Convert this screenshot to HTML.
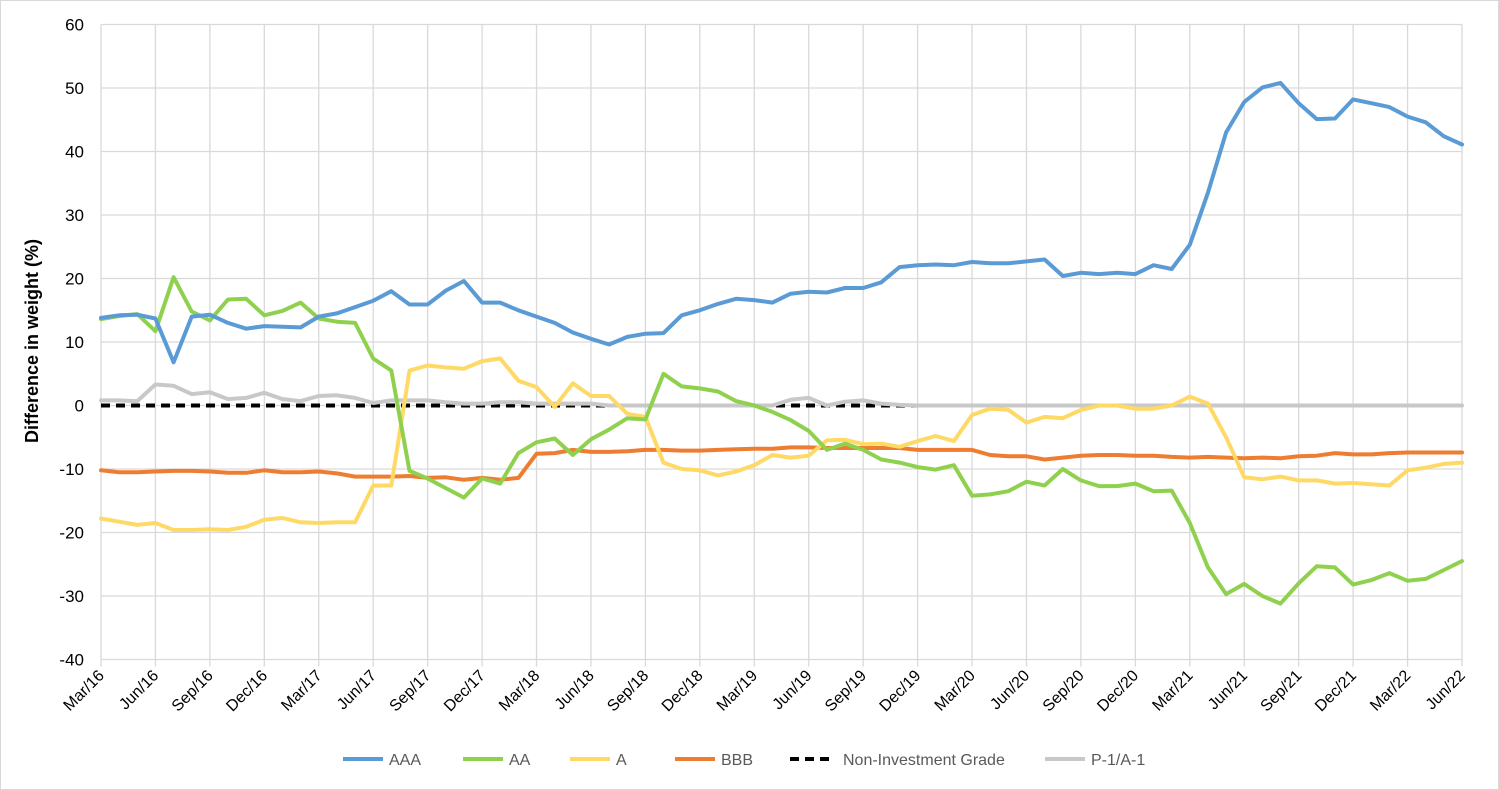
<!DOCTYPE html>
<html><head><meta charset="utf-8"><style>
body{margin:0;background:#fff;}
svg{display:block;font-family:"Liberation Sans",sans-serif;}
</style></head><body>
<svg id="chart" width="1499" height="790">
<rect x="0.5" y="0.5" width="1498" height="789" fill="#fff" stroke="#d9d9d9"/>
<g id="grid"></g><g id="yticks"></g><g id="xticks"></g><g id="series"></g>
<text x="38" y="341" transform="rotate(-90 38 341)" text-anchor="middle" font-size="18" font-weight="bold" fill="#000">Difference in weight (%)</text>
<g id="legend"></g>
</svg>
<script>
const yTicks=[60,50,40,30,20,10,0,-10,-20,-30,-40];
const xLabels=["Mar/16","Jun/16","Sep/16","Dec/16","Mar/17","Jun/17","Sep/17","Dec/17","Mar/18","Jun/18","Sep/18","Dec/18","Mar/19","Jun/19","Sep/19","Dec/19","Mar/20","Jun/20","Sep/20","Dec/20","Mar/21","Jun/21","Sep/21","Dec/21","Mar/22","Jun/22"];
const aaa=[13.8,14.2,14.3,13.7,6.8,14.0,14.3,13.0,12.1,12.5,12.4,12.3,14.0,14.5,15.5,16.5,18.0,15.9,15.9,18.1,19.6,16.2,16.2,15.0,14.0,13.0,11.5,10.5,9.6,10.8,11.3,11.4,14.2,15.0,16.0,16.8,16.6,16.2,17.6,17.9,17.8,18.5,18.5,19.4,21.8,22.1,22.2,22.1,22.6,22.4,22.4,22.7,23.0,20.4,20.9,20.7,20.9,20.7,22.1,21.5,25.3,33.5,43,47.8,50.1,50.8,47.6,45.1,45.2,48.2,47.6,47.0,45.5,44.6,42.4,41.1];
const aa=[13.6,14.1,14.4,11.7,20.2,14.8,13.4,16.7,16.8,14.2,14.9,16.2,13.7,13.2,13.0,7.4,5.5,-10.3,-11.5,-13.0,-14.5,-11.5,-12.3,-7.5,-5.8,-5.2,-7.8,-5.3,-3.8,-2.0,-2.2,5.0,3.0,2.7,2.2,0.7,0.0,-1.0,-2.3,-4.0,-7.0,-6.0,-7.0,-8.5,-9.0,-9.7,-10.1,-9.4,-14.2,-14.0,-13.5,-12.0,-12.6,-10.0,-11.8,-12.7,-12.7,-12.3,-13.5,-13.4,-18.5,-25.5,-29.7,-28.1,-30.0,-31.2,-28.0,-25.3,-25.5,-28.2,-27.5,-26.4,-27.6,-27.3,-25.9,-24.5];
const a=[-17.8,-18.3,-18.8,-18.5,-19.6,-19.6,-19.5,-19.6,-19.1,-18.0,-17.7,-18.4,-18.5,-18.4,-18.4,-12.6,-12.6,5.5,6.3,6.0,5.8,7.0,7.4,3.9,2.9,-0.2,3.5,1.5,1.5,-1.3,-1.8,-9.0,-10.0,-10.2,-11.0,-10.4,-9.4,-7.8,-8.2,-7.9,-5.5,-5.4,-6.1,-6.0,-6.5,-5.6,-4.8,-5.6,-1.5,-0.5,-0.7,-2.7,-1.8,-2.0,-0.7,0.0,0.0,-0.5,-0.5,0.0,1.4,0.3,-5,-11.3,-11.6,-11.2,-11.8,-11.8,-12.3,-12.2,-12.4,-12.6,-10.2,-9.8,-9.2,-9.0];
const bbb=[-10.2,-10.5,-10.5,-10.4,-10.3,-10.3,-10.4,-10.6,-10.6,-10.2,-10.5,-10.5,-10.4,-10.7,-11.2,-11.2,-11.2,-11.1,-11.4,-11.3,-11.7,-11.4,-11.7,-11.4,-7.6,-7.5,-7.0,-7.3,-7.3,-7.2,-7.0,-7.0,-7.1,-7.1,-7.0,-6.9,-6.8,-6.8,-6.6,-6.6,-6.7,-6.7,-6.7,-6.7,-6.7,-7.0,-7.0,-7.0,-7.0,-7.8,-8.0,-8.0,-8.5,-8.2,-7.9,-7.8,-7.8,-7.9,-7.9,-8.1,-8.2,-8.1,-8.2,-8.3,-8.2,-8.3,-8.0,-7.9,-7.5,-7.7,-7.7,-7.5,-7.4,-7.4,-7.4,-7.4];
const nig=[0,0,0,0,0,0,0,0,0,0,0,0,0,0,0,0,0,0,0,0,0,0,0,0,0,0,0,0,0,0,0,0,0,0,0,0,0,0,0,0,0,0,0,0,0,0];
const p1=[0.8,0.8,0.7,3.3,3.1,1.8,2.1,1.0,1.2,2.0,1.0,0.7,1.5,1.6,1.2,0.4,0.8,0.8,0.8,0.5,0.3,0.3,0.5,0.5,0.3,0.3,0.3,0.3,0,0,0,0,0,0,0,0,0,0,0.9,1.2,0,0.6,0.8,0.3,0.1,0,0,0,0,0,0,0,0,0,0,0,0,0,0,0,0,0,0,0,0,0,0,0,0,0,0,0,0,0,0,0];
const NS="http://www.w3.org/2000/svg";
const X0=101,X1=1462,N=76,Y0=405.5,PX=6.35;
const xs=i=>X0+(X1-X0)*i/(N-1);
const ys=v=>Y0-v*PX;
function mk(t,at,p){const e=document.createElementNS(NS,t);for(const k in at)e.setAttribute(k,at[k]);p.appendChild(e);return e;}
const grid=document.getElementById('grid');
yTicks.forEach(v=>{const l=mk('line',{x1:X0,x2:X1,y1:ys(v),y2:ys(v),stroke:'#d9d9d9','stroke-width':1.3},grid);


const t=mk('text',{x:84,y:ys(v)+6,'text-anchor':'end','font-size':17,fill:'#000'},document.getElementById('yticks'));
t.textContent=v;

});
xLabels.forEach((lb,k)=>{const x=xs(k*3);
const l=mk('line',{x1:x,x2:x,y1:ys(60),y2:ys(-40)+7,stroke:'#d9d9d9','stroke-width':1.3},grid);


const t=mk('text',{x:x+4,y:ys(-40)+17,'text-anchor':'end','font-size':16,fill:'#000',transform:`rotate(-45 ${x+4} ${ys(-40)+17})`},document.getElementById('xticks'));
t.textContent=lb;

});
const S=document.getElementById('series');
function line(d,c,name,dash){const p=d.map((v,i)=>xs(i).toFixed(1)+','+ys(v).toFixed(1)).join(' ');
const e=mk('polyline',{points:p,fill:'none',stroke:c,'stroke-width':4,'stroke-linejoin':'round','stroke-linecap':dash?'butt':'round'},S);
if(dash)e.setAttribute('stroke-dasharray',dash);

}
line(nig,'#000','series-non-investment-grade','9,6');
line(p1,'#c8c8c8','series-p1-a1');
line(bbb,'#ed7d31','series-bbb');
line(a,'#ffd966','series-a');
line(aa,'#8fd14f','series-aa');
line(aaa,'#5b9bd5','series-aaa');
const legendItems=[["AAA","#5b9bd5",343,null],["AA","#8fd14f",463,null],["A","#ffd966",570,null],["BBB","#ed7d31",675,null],["Non-Investment Grade","#000",790,"9,6"],["P-1/A-1","#c8c8c8",1045,null]];
const L=document.getElementById('legend');
legendItems.forEach(([n,c,x,d])=>{const g=mk('g',{},L);


const l=mk('line',{x1:x,x2:x+40,y1:759,y2:759,stroke:c,'stroke-width':4},g);
if(d)l.setAttribute('stroke-dasharray',d);
const t=mk('text',{x:x+(d?53:46),y:765,'font-size':16,fill:'#595959'},g);t.textContent=n;});
</script>
</body></html>
